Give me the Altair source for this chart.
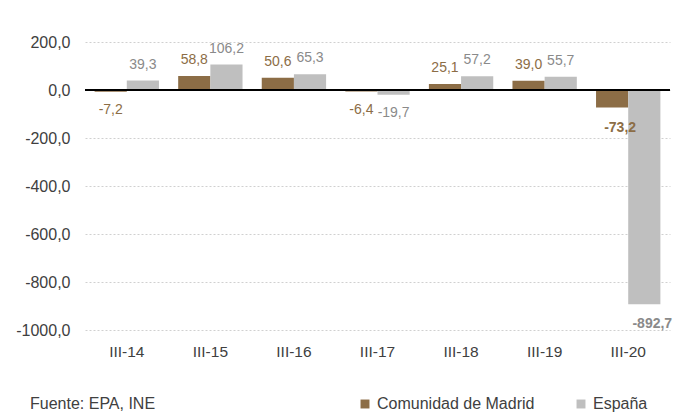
import altair as alt
import pandas as pd

periods = ["III-14", "III-15", "III-16", "III-17", "III-18", "III-19", "III-20"]
madrid = [-7.2, 58.8, 50.6, -6.4, 25.1, 39.0, -73.2]
espana = [39.3, 106.2, 65.3, -19.7, 57.2, 55.7, -892.7]
series = ["Comunidad de Madrid", "España"]
y_ticks = [-1000, -800, -600, -400, -200, 0, 200]
source_note = "Fuente: EPA, INE"

rows = []
for p, m, e in zip(periods, madrid, espana):
    for s, v in zip(series, [m, e]):
        rows.append({"period": p, "serie": s, "value": v,
                     "label": f"{v:.1f}".replace(".", ",")})
df = pd.DataFrame(rows)

C_MAD = "#8C6D46"
C_ESP = "#BFBFBF"
FONT = "Arial"

xenc = alt.X("period:N", sort=periods,
             scale=alt.Scale(paddingInner=0.23, paddingOuter=0.115),
             axis=alt.Axis(title=None, ticks=False, domain=False, labelAngle=0,
                           labelFontSize=15.5, labelColor="#404040", labelPadding=14,
                           labelFont=FONT, grid=False))
xoff = alt.XOffset("serie:N", sort=series, scale=alt.Scale(paddingInner=0, paddingOuter=0))
yscale = alt.Scale(domain=[-1000, 200], nice=False, zero=False)

base = alt.Chart(df)

bars = base.mark_bar().encode(
    x=xenc,
    xOffset=xoff,
    y=alt.Y("value:Q", scale=yscale,
            axis=alt.Axis(title=None, values=y_ticks, ticks=False, domain=False,
                          labelFontSize=16, labelColor="#404040", labelPadding=15,
                          labelFont=FONT, gridColor="#D0D0D0", gridDash=[2, 2],
                          gridWidth=1,
                          labelExpr="replace(replace(format(datum.value, '.1f'), '.', ','), '\u2212', '-')")),
    color=alt.Color("serie:N", sort=series,
                    scale=alt.Scale(domain=series, range=[C_MAD, C_ESP]),
                    legend=alt.Legend(title=None, orient="none", direction="horizontal",
                                      legendX=272, legendY=354, symbolType="square",
                                      symbolSize=80, symbolStrokeWidth=0,
                                      labelFontSize=16, labelColor="#404040",
                                      labelFont=FONT, columnPadding=38,
                                      symbolOpacity=1, labelOffset=4)),
)

zero = alt.Chart(pd.DataFrame({"z": [0]})).mark_rule(color="#000000", strokeWidth=2).encode(
    y=alt.Y("z:Q", scale=yscale)
)

lab_color = alt.Color("serie:N", sort=series,
                      scale=alt.Scale(domain=series, range=["#8C6D46", "#8A8A8A"]),
                      legend=None)

def labels(filter_expr, dy, bold, dx=0):
    return base.transform_filter(filter_expr).mark_text(
        fontSize=14, font=FONT, dy=dy, dx=dx, baseline="middle",
        fontWeight="bold" if bold else "normal"
    ).encode(
        x=alt.X("period:N", sort=periods),
        xOffset=xoff,
        y=alt.Y("value:Q", scale=yscale),
        text="label:N",
        color=lab_color,
    )

pos = labels("datum.value >= 0", -16, False)
neg = labels("datum.value < 0 && datum.period != 'III-20'", 18, False)
negb = labels("datum.value < 0 && datum.period == 'III-20'", 20, True, dx=8)

note = alt.Chart(pd.DataFrame({"t": [source_note]})).mark_text(
    align="left", baseline="middle", fontSize=16, font=FONT, color="#404040"
).encode(x=alt.value(-55), y=alt.value(362), text="t:N")

chart = alt.layer(bars, zero, pos, neg, negb, note).resolve_scale(color="independent").properties(
    width=585, height=288,
    autosize=alt.AutoSizeParams(type="none"),
    padding={"left": 77, "top": 34, "right": 3, "bottom": 84},
).configure(background="white").configure_view(stroke=None)

chart.save("out.html", embed_options={"renderer": "svg", "actions": False})
